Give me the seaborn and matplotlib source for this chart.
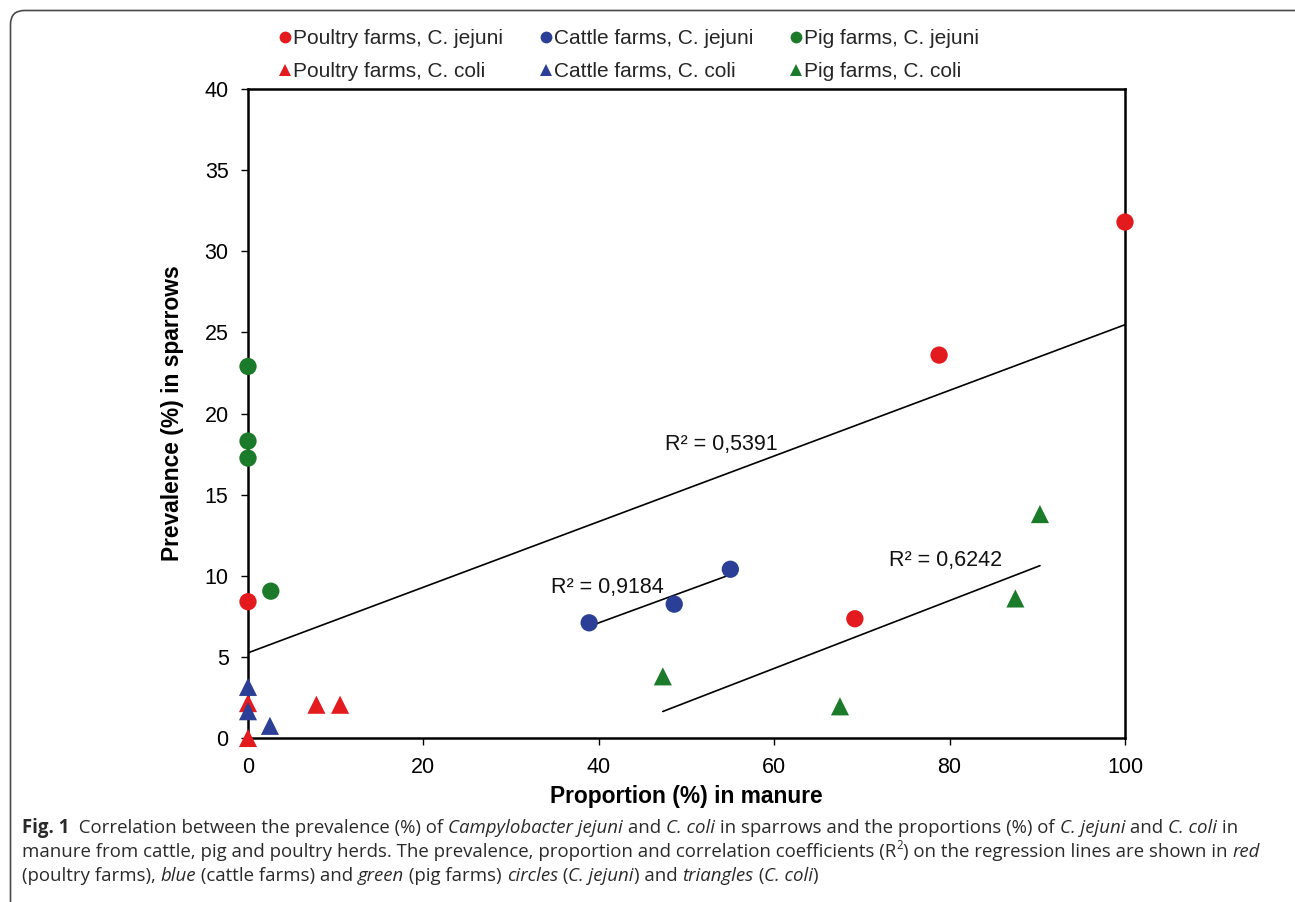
import numpy as np
import pandas as pd
import matplotlib
matplotlib.use("Agg")
import matplotlib.pyplot as plt
import seaborn as sns
from matplotlib.patches import FancyBboxPatch
from matplotlib.lines import Line2D
from matplotlib.transforms import IdentityTransform
from matplotlib.font_manager import FontProperties, findfont

# ---------------- data ----------------
poultry_jejuni_x = [0.0, 69.2, 78.8, 100.0]
poultry_jejuni_y = [8.4, 7.35, 23.6, 31.8]
cattle_jejuni_x = [38.9, 48.6, 55.0]
cattle_jejuni_y = [7.1, 8.25, 10.4]
pig_jejuni_x = [0.0, 0.0, 0.0, 2.6]
pig_jejuni_y = [22.9, 18.3, 17.25, 9.05]
poultry_coli_x = [0.0, 0.0, 7.8, 10.5]
poultry_coli_y = [0.0, 2.15, 2.05, 2.05]
cattle_coli_x = [0.0, 0.0, 2.5]
cattle_coli_y = [3.15, 1.65, 0.75]
pig_coli_x = [47.3, 67.5, 87.5, 90.3]
pig_coli_y = [3.8, 1.95, 8.6, 13.8]

series_labels = ["Poultry farms, C. jejuni", "Cattle farms, C. jejuni", "Pig farms, C. jejuni",
                 "Poultry farms, C. coli", "Cattle farms, C. coli", "Pig farms, C. coli"]
r2_labels = ["R² = 0,5391", "R² = 0,9184", "R² = 0,6242"]
x_ticks = [0, 20, 40, 60, 80, 100]
y_ticks = [0, 5, 10, 15, 20, 25, 30, 35, 40]

RED, BLUE, GREEN = "#e31b1f", "#2a3f95", "#1c7a2b"

W, H, DPI = 1295, 902, 100
sns.set_theme(style="white")
plt.rcParams["font.family"] = ["Liberation Sans", "DejaVu Sans"]

fig = plt.figure(figsize=(W / DPI, H / DPI), dpi=DPI)
fig.patch.set_facecolor("white")

# outer rounded frame
frame = FancyBboxPatch((0.105, -1.0), 13.5, 9.02 - 0.105 + 1.0,
                       boxstyle="round,pad=0,rounding_size=0.14",
                       transform=fig.dpi_scale_trans, fill=False,
                       edgecolor="#4a4a4a", linewidth=1.2, clip_on=False)
fig.add_artist(frame)

ax = fig.add_axes([248 / W, 1 - 738 / H, 877 / W, 649 / H])
ax.set_facecolor("white")

specs = [
    (poultry_jejuni_x, poultry_jejuni_y, RED, "o", series_labels[0]),
    (cattle_jejuni_x, cattle_jejuni_y, BLUE, "o", series_labels[1]),
    (pig_jejuni_x, pig_jejuni_y, GREEN, "o", series_labels[2]),
    (poultry_coli_x, poultry_coli_y, RED, "^", series_labels[3]),
    (cattle_coli_x, cattle_coli_y, BLUE, "^", series_labels[4]),
    (pig_coli_x, pig_coli_y, GREEN, "^", series_labels[5]),
]
for xs, ys, c, m, lab in specs:
    df = pd.DataFrame({"x": xs, "y": ys})
    sns.scatterplot(data=df, x="x", y="y", ax=ax, color=c, marker=m, s=155 if m == "o" else 170,
                    edgecolor="none", linewidth=0, clip_on=False, zorder=3, legend=False)

# regression lines
for xs, ys in [(poultry_jejuni_x, poultry_jejuni_y), (cattle_jejuni_x, cattle_jejuni_y),
               (pig_coli_x, pig_coli_y)]:
    sns.regplot(x=np.array(xs), y=np.array(ys), ax=ax, scatter=False, ci=None, truncate=True,
                line_kws=dict(color="black", linewidth=1.2, zorder=2))

ax.text(54.0, 18.1, r2_labels[0], fontsize=15.5, ha="center", va="center", color="#111111")
ax.text(41.0, 9.3, r2_labels[1], fontsize=15.5, ha="center", va="center", color="#111111")
ax.text(79.5, 10.95, r2_labels[2], fontsize=15.5, ha="center", va="center", color="#111111")

ax.set_xlim(0, 100)
ax.set_ylim(0, 40)
ax.set_xticks(x_ticks)
ax.set_yticks(y_ticks)
ax.tick_params(axis="both", which="major", direction="out", length=5, width=1,
               color="black", labelsize=15.5, labelcolor="black", pad=9,
               bottom=True, left=True)
for sp in ax.spines.values():
    sp.set_visible(True)
    sp.set_color("black")
    sp.set_linewidth(1.8)

ax.set_xlabel("Proportion (%) in manure", fontsize=16.4, fontweight="bold", color="black", va="center")
ax.set_ylabel("Prevalence (%) in sparrows", fontsize=16.4, fontweight="bold", color="black", va="center")
ax.xaxis.set_label_coords(0.5, (738 - 797) / 649)
ax.yaxis.set_label_coords((173 - 248) / 877, 0.5)

# legend (column-major order so rows are jejuni / coli)
handles = []
order = [0, 3, 1, 4, 2, 5]
for i in order:
    xs, ys, c, m, lab = specs[i]
    handles.append(Line2D([], [], linestyle="none", marker=m, color=c, markersize=8.5 if m == "o" else 9,
                          markeredgewidth=0, label=lab))
fig.legend(handles=handles, labels=[h.get_label() for h in handles], ncol=3, loc="upper left",
           bbox_to_anchor=(268 / W, 1 - 19 / H), frameon=False, fontsize=15,
           handlelength=0.6, handletextpad=0.1, columnspacing=1.75, labelspacing=0.65, borderpad=0)

# ---------------- caption ----------------
def pick_font(cands):
    for f in cands:
        try:
            findfont(FontProperties(family=f), fallback_to_default=False)
            return f
        except Exception:
            continue
    return "DejaVu Sans"

cap_font = pick_font(["Open Sans", "Noto Sans", "Liberation Sans"])
renderer = fig.canvas.get_renderer()

def seg_props(style, size):
    kw = dict(family=cap_font, size=size)
    if style == "b":
        kw["weight"] = "bold"
    if style == "i":
        kw["style"] = "italic"
    if style == "sup":
        kw["size"] = size * 0.62
    return FontProperties(**kw)

def seg_width(text, style, size):
    p = seg_props(style, size)
    w1, _, _ = renderer.get_text_width_height_descent("x" + text + "x", p, ismath=False)
    w2, _, _ = renderer.get_text_width_height_descent("xx", p, ismath=False)
    return w1 - w2

def line_width(segs, size):
    return sum(seg_width(t, s, size) for t, s in segs)

cap_lines = [
    [("Fig. 1", "b"), ("  Correlation between the prevalence (%) of ", "n"), ("Campylobacter jejuni", "i"),
     (" and ", "n"), ("C. coli", "i"), (" in sparrows and the proportions (%) of ", "n"), ("C. jejuni", "i"),
     (" and ", "n"), ("C. coli", "i"), (" in", "n")],
    [("manure from cattle, pig and poultry herds. The prevalence, proportion and correlation coefficients (R", "n"),
     ("2", "sup"), (") on the regression lines are shown in ", "n"), ("red", "i")],
    [("(poultry farms), ", "n"), ("blue", "i"), (" (cattle farms) and ", "n"), ("green", "i"),
     (" (pig farms) ", "n"), ("circles", "i"), (" (", "n"), ("C. jejuni", "i"), (") and ", "n"),
     ("triangles", "i"), (" (", "n"), ("C. coli", "i"), (")", "n")],
]
base = 12.0
targets = [1253 - 22, 1247 - 22, 800 - 22]
measured = sum(line_width(l, base) for l in cap_lines)
cap_size = base * sum(targets) / measured
baselines = [833, 857, 881]
for segs, yb in zip(cap_lines, baselines):
    x = 22.0
    for t, s in segs:
        p = seg_props(s, cap_size)
        yy = H - yb
        if s == "sup":
            yy += cap_size * 0.42 * DPI / 72
        fig.text(x, yy, t, fontproperties=p, transform=IdentityTransform(),
                 ha="left", va="baseline", color="#2a2a2a")
        x += seg_width(t, s, cap_size)

fig.savefig("out.png", dpi=DPI, facecolor="white")
